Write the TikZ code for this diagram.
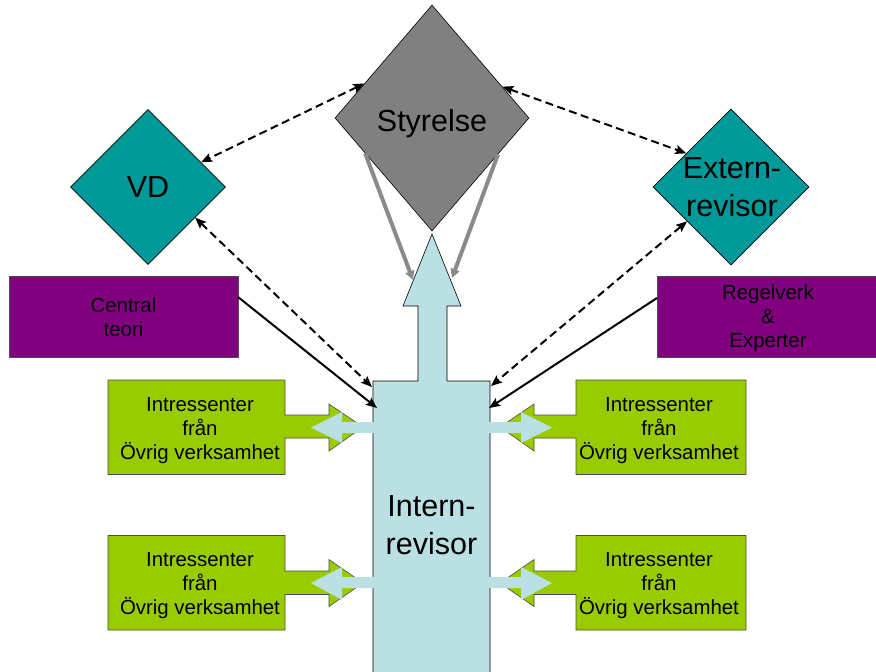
\documentclass[tikz,border=0pt]{standalone}
\usepackage{fontspec}
\setmainfont{Liberation Sans}
\usetikzlibrary{shapes.geometric,arrows.meta}
\definecolor{dteal}{HTML}{009999}
\definecolor{dgray}{HTML}{808080}
\definecolor{agray}{HTML}{8A8A8A}
\definecolor{dpurple}{HTML}{800080}
\definecolor{dgreen}{HTML}{99CC00}
\definecolor{lblue}{HTML}{BBE0E3}
\begin{document}
\begin{tikzpicture}[x=1pt,y=-1pt,
  dia/.style={diamond, draw=black, line width=0.6pt, inner sep=0pt},
  bigtext/.style={font=\fontsize{30.5}{37.5}\selectfont, align=center, inner sep=0pt},
  smalltext/.style={font=\fontsize{20.4}{24}\selectfont, align=center, inner sep=0pt},
  dasharrow/.style={dash pattern=on 8pt off 4.5pt, line width=2pt,
     {Stealth[length=11pt,width=9pt,inset=2pt]}-{Stealth[length=11pt,width=9pt,inset=2pt]}},
  solidarrow/.style={line width=2pt, -{Stealth[length=11pt,width=9pt,inset=2pt]}},
  grayarrow/.style={draw=agray, line width=4pt, -{Triangle[length=9pt,width=9pt]}},
  greenshape/.style={fill=dgreen, draw=black!70, line width=0.6pt},
  purplebox/.style={fill=dpurple, draw=black!70, line width=0.6pt},
  blueshape/.style={fill=lblue, draw=none}
]
\useasboundingbox (0,0) rectangle (876,672);

% diamonds
\node[dia, fill=dgray, minimum width=194pt, minimum height=226pt] (sty) at (432,118) {};
\node[bigtext] (styT) at (432,124) {Styrelse};
\node[dia, fill=dteal, minimum width=155pt, minimum height=155pt] (vd) at (148,187) {};
\node[bigtext] (vdT) at (148,187) {VD};
\node[dia, fill=dteal, minimum width=156pt, minimum height=156pt] (ext) at (731,187) {};
\node[bigtext] (extT) at (732,187) {Extern-\\revisor};

% purple boxes
\draw[purplebox] (9,276) rectangle (238,357);
\node[smalltext] (ct) at (123.5,317.5) {Central\\teori};
\draw[purplebox] (657,276) rectangle (879,357);
\node[smalltext] (rv) at (768,318.5) {Regelverk\\\&\\Experter};

% green callouts
\draw[greenshape] (108,380) -- (285,380) -- (285,415) -- (329,415) -- (329,404) -- (363,427) -- (329,451) -- (329,438) -- (285,438) -- (285,474.5) -- (108,474.5) -- cycle;
\node[smalltext] (g1) at (200,430.5) {Intressenter\\från\\Övrig verksamhet};
\draw[greenshape] (746,380) -- (576,380) -- (576,415) -- (534,415) -- (534,404) -- (500,427) -- (534,451) -- (534,438) -- (576,438) -- (576,474.5) -- (746,474.5) -- cycle;
\node[smalltext] (g2) at (659,430.5) {Intressenter\\från\\Övrig verksamhet};
\draw[greenshape] (108,535.5) -- (285,535.5) -- (285,571) -- (329,571) -- (329,559.5) -- (363,583) -- (329,606.5) -- (329,594.5) -- (285,594.5) -- (285,630) -- (108,630) -- cycle;
\node[smalltext] (g3) at (200,586) {Intressenter\\från\\Övrig verksamhet};
\draw[greenshape] (746,535.5) -- (576,535.5) -- (576,571) -- (534,571) -- (534,559.5) -- (500,583) -- (534,606.5) -- (534,594.5) -- (576,594.5) -- (576,630) -- (746,630) -- cycle;
\node[smalltext] (g4) at (659,586) {Intressenter\\från\\Övrig verksamhet};

% internal auditor column with up arrow
\draw[fill=lblue, draw=black, line width=0.6pt] (373,680) -- (373,381) -- (418,381) -- (418,306) -- (403,306) -- (432,234) -- (461,306) -- (447,306) -- (447,381) -- (490,381) -- (490,680);
\node[bigtext] (intern) at (431.5,525) {Intern-\\revisor};

% light blue double arrows
\fill[blueshape] (311,427.5) -- (342,412) -- (342,422) -- (521,422) -- (521,412) -- (552,427.5) -- (521,443) -- (521,433) -- (342,433) -- (342,443) -- cycle;
\fill[blueshape] (311,583) -- (342,567) -- (342,577) -- (521,577) -- (521,567) -- (552,583) -- (521,600) -- (521,588) -- (342,588) -- (342,600) -- cycle;

% connector endpoints on the column
\coordinate (inL1) at (372,387);
\coordinate (inL2) at (377,408);
\coordinate (inR1) at (491,386);
\coordinate (inR2) at (489,408);
\coordinate (tipL) at (413,280);
\coordinate (tipR) at (452,278);
\coordinate (ctR) at (238,297);
\coordinate (rvL) at (657,298);

% gray arrows
\draw[grayarrow] (sty.208.9) -- (tipL);
\draw[grayarrow] (sty.-29.3) -- (tipR);

% dashed arrows
\draw[dasharrow] (sty.153.8) -- (vd.25);
\draw[dasharrow] (sty.24.9) -- (ext.143.5);
\draw[dasharrow] (vd.-33) -- (inL1);
\draw[dasharrow] (ext.218.8) -- (inR1);

% solid arrows
\draw[solidarrow] (ctR) -- (inL2);
\draw[solidarrow] (rvL) -- (inR2);
\end{tikzpicture}
\end{document}
